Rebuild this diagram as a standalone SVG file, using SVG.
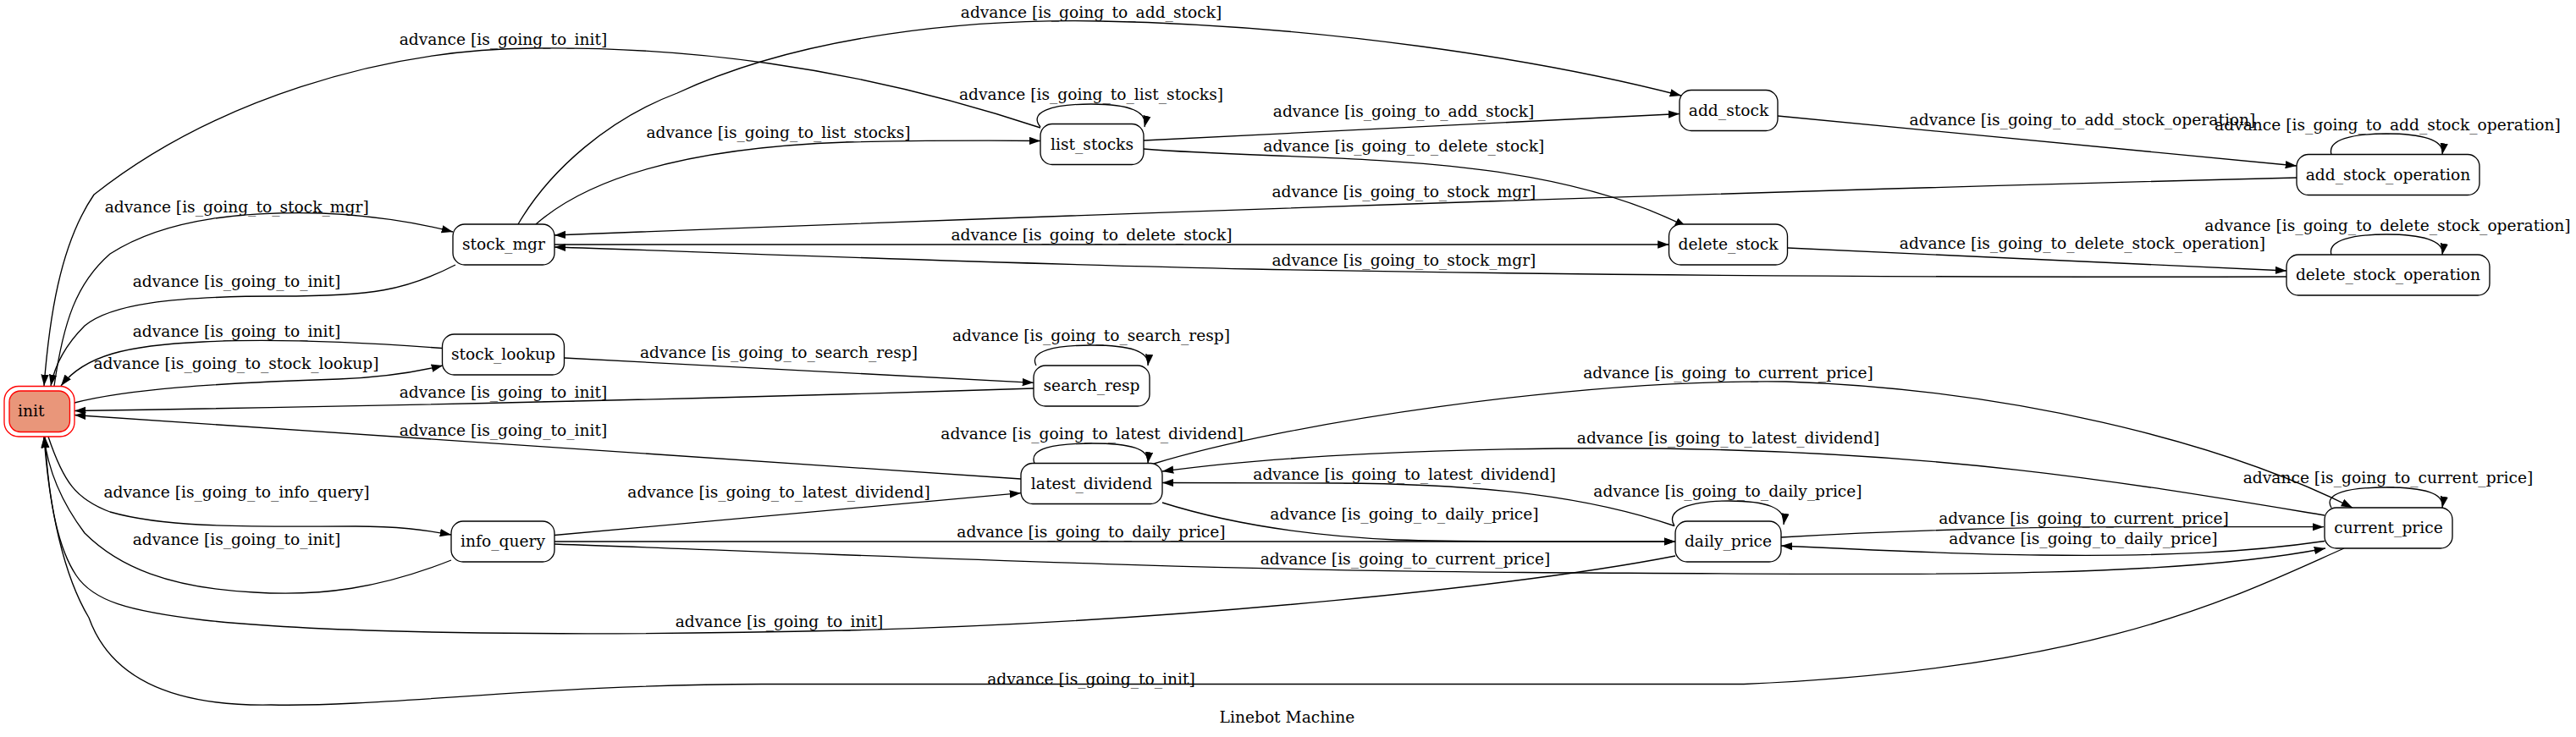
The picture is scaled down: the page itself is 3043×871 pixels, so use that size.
<svg xmlns="http://www.w3.org/2000/svg" width="3043" height="871" viewBox="0 0 3043 871">
<defs>
<marker id="arr" markerUnits="userSpaceOnUse" markerWidth="14" markerHeight="10" refX="13.3" refY="4.67" orient="auto"><path d="M0,0 L13.3,4.67 L0,9.33 z" fill="#000"/></marker>
</defs>
<style>
text{font-family:"DejaVu Serif",serif;font-size:18.67px;fill:#000}
.lbl{text-anchor:middle}
.node rect{fill:#fff;stroke:#000;stroke-width:1.33}
.conn path{fill:none;stroke:#000;stroke-width:1.33;marker-end:url(#arr)}
</style>
<rect width="3043" height="871" fill="#fff"/>
<g id="connectors" class="conn">
<g id="e_list_stocks_init"><path d="M1229,151 C1000,75 800,55 630,57 C450,58 250,120 111,230 C70,290 58,380 52,456"/><text class="lbl" x="594.5" y="52.7">advance [is_going_to_init]</text></g>
<g id="e_stock_mgr_add_stock"><path d="M612,265 C650,200 720,140 800,110 C950,40 1150,22 1300,25 C1560,30 1820,70 1986,113"/><text class="lbl" x="1289" y="21">advance [is_going_to_add_stock]</text></g>
<g id="e_list_stocks_loop"><path d="M1229,150 C1215,133 1240,123 1289,123 C1335,123 1356,132 1352,150"/><text class="lbl" x="1289" y="118">advance [is_going_to_list_stocks]</text></g>
<g id="e_stock_mgr_list_stocks"><path d="M633,265 C690,215 800,175 1000,168 C1100,166 1180,166 1229,166.5"/><text class="lbl" x="919.5" y="163">advance [is_going_to_list_stocks]</text></g>
<g id="e_list_stocks_add_stock"><path d="M1351,166 L1984,134.5"/><text class="lbl" x="1658" y="137.7">advance [is_going_to_add_stock]</text></g>
<g id="e_add_stock_add_stock_operation"><path d="M2100,137 L2713,196"/><text class="lbl" x="2460" y="147.7">advance [is_going_to_add_stock_operation]</text></g>
<g id="e_add_stock_operation_loop"><path d="M2754,182.5 C2749,165 2779,158 2819,158 C2860,158 2888,165 2885,182.5"/><text class="lbl" x="2820.5" y="154">advance [is_going_to_add_stock_operation]</text></g>
<g id="e_list_stocks_delete_stock"><path d="M1351,176 C1550,192 1810,175 1992,268"/><text class="lbl" x="1658.3" y="179">advance [is_going_to_delete_stock]</text></g>
<g id="e_init_stock_mgr"><path d="M64,456 C75,380 90,335 130,300 C200,255 300,250 380,252 C450,255 500,265 535,274"/><text class="lbl" x="279.7" y="251">advance [is_going_to_stock_mgr]</text></g>
<g id="e_add_stock_operation_stock_mgr"><path d="M2713,210 Q1800,233 655,278"/><text class="lbl" x="1658.4" y="233">advance [is_going_to_stock_mgr]</text></g>
<g id="e_stock_mgr_delete_stock"><path d="M655,289 L1971.5,289"/><text class="lbl" x="1289.5" y="284">advance [is_going_to_delete_stock]</text></g>
<g id="e_delete_stock_operation_loop"><path d="M2754,301 C2749,284 2779,277 2819,277 C2860,277 2888,284 2885,301"/><text class="lbl" x="2820.5" y="272.7">advance [is_going_to_delete_stock_operation]</text></g>
<g id="e_delete_stock_delete_stock_operation"><path d="M2112,293 L2701,320"/><text class="lbl" x="2460" y="294">advance [is_going_to_delete_stock_operation]</text></g>
<g id="e_delete_stock_operation_stock_mgr"><path d="M2701,327 C2300,328 1900,326 1480,318 C1150,311 850,298 655,292"/><text class="lbl" x="1658.4" y="314">advance [is_going_to_stock_mgr]</text></g>
<g id="e_stock_mgr_init"><path d="M538,313 C480,343 440,350 330,350 C200,350 130,360 100,385 C80,405 65,430 60,456"/><text class="lbl" x="279.5" y="339">advance [is_going_to_init]</text></g>
<g id="e_stock_lookup_init"><path d="M522,411.5 C420,404 320,400 240,404 C150,408 100,420 72,456"/><text class="lbl" x="279.5" y="397.7">advance [is_going_to_init]</text></g>
<g id="e_init_stock_lookup"><path d="M88,476 C150,460 250,453 400,448 C450,446 490,440 523,432"/><text class="lbl" x="279" y="436">advance [is_going_to_stock_lookup]</text></g>
<g id="e_stock_lookup_search_resp"><path d="M666.5,423 L1221,452.3"/><text class="lbl" x="920" y="422.7">advance [is_going_to_search_resp]</text></g>
<g id="e_search_resp_loop"><path d="M1224,432 C1215,415 1245,408 1290,408 C1335,408 1358,415 1356,432"/><text class="lbl" x="1289" y="403">advance [is_going_to_search_resp]</text></g>
<g id="e_search_resp_init"><path d="M1221,459 Q700,476 88,485.5"/><text class="lbl" x="594.5" y="470.3">advance [is_going_to_init]</text></g>
<g id="e_latest_dividend_init"><path d="M1206,566 L88,490.5"/><text class="lbl" x="594.5" y="515.3">advance [is_going_to_init]</text></g>
<g id="e_latest_dividend_current_price"><path d="M1363,548 C1520,500 1860,448 2110,451 C2370,460 2620,520 2779,600"/><text class="lbl" x="2041.5" y="447">advance [is_going_to_current_price]</text></g>
<g id="e_latest_dividend_loop"><path d="M1222,547.5 C1215,530 1245,524 1290,524 C1335,524 1358,530 1356,547.5"/><text class="lbl" x="1290" y="519">advance [is_going_to_latest_dividend]</text></g>
<g id="e_current_price_latest_dividend"><path d="M2746,609 C2510,570 2310,535 1960,530 C1700,528 1500,540 1373,557"/><text class="lbl" x="2041.5" y="523.7">advance [is_going_to_latest_dividend]</text></g>
<g id="e_daily_price_latest_dividend"><path d="M1978,621.5 C1880,588 1760,572 1580,571 C1500,570.5 1430,570.5 1373,570.5"/><text class="lbl" x="1659" y="566.7">advance [is_going_to_latest_dividend]</text></g>
<g id="e_daily_price_loop"><path d="M1978,621.5 C1966,602 1998,592 2042,592 C2087,592 2110,600 2107,620"/><text class="lbl" x="2041" y="587">advance [is_going_to_daily_price]</text></g>
<g id="e_current_price_loop"><path d="M2754,600 C2744,583 2774,576 2819,576 C2864,576 2888,583 2885,600"/><text class="lbl" x="2821" y="571">advance [is_going_to_current_price]</text></g>
<g id="e_init_info_query"><path d="M57,516 C75,570 90,590 130,605 C200,625 300,622 420,622 C470,622 500,626 533,632"/><text class="lbl" x="279.5" y="588">advance [is_going_to_info_query]</text></g>
<g id="e_info_query_latest_dividend"><path d="M655,632.5 L1206,582.7"/><text class="lbl" x="920" y="588">advance [is_going_to_latest_dividend]</text></g>
<g id="e_latest_dividend_daily_price"><path d="M1373,594 C1430,612 1520,632 1650,638 C1750,641 1860,640 1979,640"/><text class="lbl" x="1659" y="614">advance [is_going_to_daily_price]</text></g>
<g id="e_daily_price_current_price"><path d="M2104,635 C2210,629 2360,623 2510,622.7 L2745,622.7"/><text class="lbl" x="2461.5" y="618.7">advance [is_going_to_current_price]</text></g>
<g id="e_info_query_daily_price"><path d="M655,640 L1979,640"/><text class="lbl" x="1289" y="635">advance [is_going_to_daily_price]</text></g>
<g id="e_current_price_daily_price"><path d="M2746,639.5 C2660,652 2560,658 2410,656 C2310,655 2210,650 2104,645"/><text class="lbl" x="2461" y="643">advance [is_going_to_daily_price]</text></g>
<g id="e_info_query_init"><path d="M533,662 C450,695 380,705 300,700 C200,695 140,670 100,630 C70,590 56,550 52,516"/><text class="lbl" x="279.5" y="644.3">advance [is_going_to_init]</text></g>
<g id="e_info_query_current_price"><path d="M655,643 C1000,655 1400,674 1800,676.5 C2250,679 2560,685 2747,648"/><text class="lbl" x="1660" y="666.7">advance [is_going_to_current_price]</text></g>
<g id="e_daily_price_init"><path d="M1979,657 C1810,690 1400,735 1000,745 C700,752 400,750 242,733 C150,722 110,710 90,680 C70,650 58,600 53,516"/><text class="lbl" x="920.5" y="741">advance [is_going_to_init]</text></g>
<g id="e_current_price_init"><path d="M2769,648 C2640,705 2480,790 2060,808.5 L900,808.5 C650,808.5 450,836 320,833 C200,835 130,800 105,730 C75,680 58,600 52,516"/><text class="lbl" x="1289" y="809">advance [is_going_to_init]</text></g>
</g>
<g id="init" class="node"><rect x="5" y="456.5" width="83" height="59.5" rx="17" style="fill:none;stroke:#ff0000"/><rect x="11" y="462" width="71.5" height="48.5" rx="13" style="fill:#e9967a;stroke:#ff0000"/><text x="21" y="492">init</text></g>
<g id="stock_mgr" class="node"><rect x="535" y="265" width="120" height="48" rx="14"/><text class="lbl" x="595" y="295">stock_mgr</text></g>
<g id="stock_lookup" class="node"><rect x="522.5" y="395" width="144" height="48" rx="14"/><text class="lbl" x="594.5" y="425">stock_lookup</text></g>
<g id="info_query" class="node"><rect x="533" y="616" width="122" height="48" rx="14"/><text class="lbl" x="594" y="646">info_query</text></g>
<g id="list_stocks" class="node"><rect x="1229" y="146.5" width="122" height="48" rx="14"/><text class="lbl" x="1290" y="176.5">list_stocks</text></g>
<g id="search_resp" class="node"><rect x="1221" y="432" width="137" height="48" rx="14"/><text class="lbl" x="1289.5" y="462">search_resp</text></g>
<g id="latest_dividend" class="node"><rect x="1206" y="547.5" width="167" height="48" rx="14"/><text class="lbl" x="1289.5" y="577.5">latest_dividend</text></g>
<g id="add_stock" class="node"><rect x="1984" y="106.5" width="116" height="48" rx="14"/><text class="lbl" x="2042" y="136.5">add_stock</text></g>
<g id="delete_stock" class="node"><rect x="1971.5" y="265" width="140" height="48" rx="14"/><text class="lbl" x="2041.5" y="295">delete_stock</text></g>
<g id="daily_price" class="node"><rect x="1979" y="616" width="125" height="48" rx="14"/><text class="lbl" x="2041.5" y="646">daily_price</text></g>
<g id="add_stock_operation" class="node"><rect x="2713" y="182.5" width="216" height="48" rx="14"/><text class="lbl" x="2821" y="212.5">add_stock_operation</text></g>
<g id="delete_stock_operation" class="node"><rect x="2701" y="301" width="240" height="48" rx="14"/><text class="lbl" x="2821" y="331">delete_stock_operation</text></g>
<g id="current_price" class="node"><rect x="2746" y="600" width="151" height="48" rx="14"/><text class="lbl" x="2821.5" y="630">current_price</text></g>
<text id="title" class="lbl" x="1520.4" y="854">Linebot Machine</text>
</svg>
